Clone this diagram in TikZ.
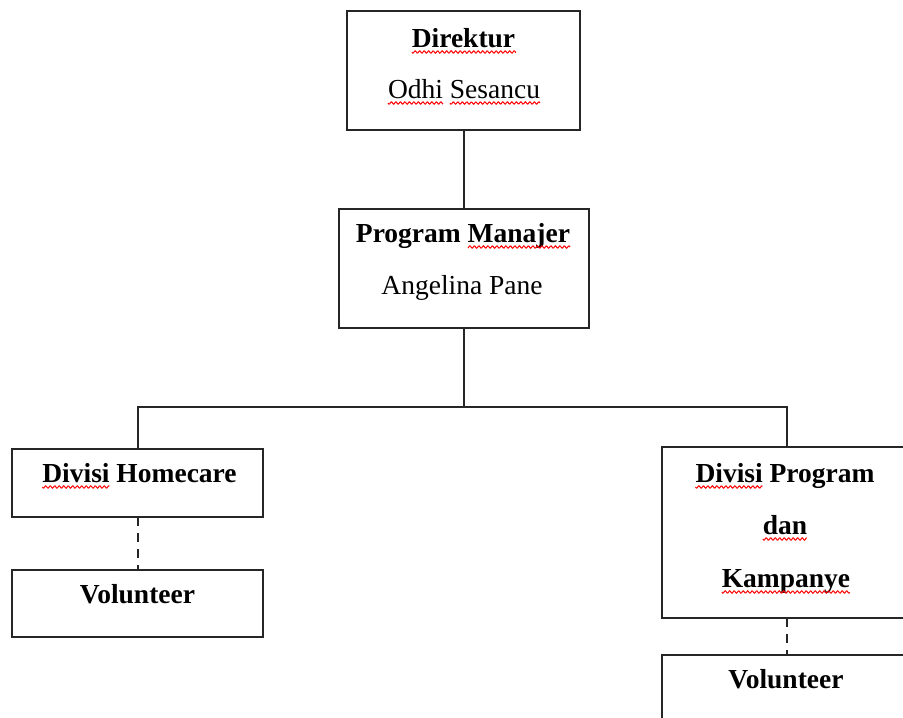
\documentclass[tikz,border=0pt]{standalone}
\usepackage{fontspec}
\setmainfont{Liberation Serif}
\begin{document}
\begin{tikzpicture}[x=1pt,y=-1pt,
  box/.style={draw=black!85,line width=2pt,inner sep=0pt,outer sep=0pt},
  lbl/.style={anchor=base,inner sep=0pt,outer sep=0pt,font=\fontsize{27.5}{33}\selectfont},
  link/.style={line width=2pt,draw=black!85},
  dlink/.style={link,dash pattern=on 9pt off 7pt},
  squig/.style={red,line width=1pt}]
\useasboundingbox (0,0) rectangle (903,718);
% boxes
\node[box,minimum width=233pt,minimum height=119pt] (dir) at (463.5,70.5) {};
\node[box,minimum width=250pt,minimum height=119pt] (pm) at (463.5,268.5) {};
\node[box,minimum width=251pt,minimum height=68pt] (hc) at (137.5,483) {};
\node[box,minimum width=251pt,minimum height=67pt] (vl) at (137.5,603.5) {};
\node[box,minimum width=250pt,minimum height=171pt] (dpk) at (786.5,532.5) {};
\node[box,minimum width=250pt,minimum height=120pt] (vr) at (786.5,715) {};
% texts
\node[lbl] (t1) at (463.5,47) {\bfseries Direktur};
\node[lbl] (t2) at (464,98) {Odhi Sesancu};
\node[lbl] (t3) at (463,242) {\bfseries Program Manajer};
\node[lbl] (t4) at (462,294) {Angelina Pane};
\node[lbl] (t5) at (139.5,482) {\bfseries Divisi Homecare};
\node[lbl] (t6) at (137.5,603) {\bfseries Volunteer};
\node[lbl] (t7) at (785,482) {\bfseries Divisi Program};
\node[lbl] (t8) at (785,534) {\bfseries dan};
\node[lbl] (t9) at (786,587) {\bfseries Kampanye};
\node[lbl] (t10) at (786,688) {\bfseries Volunteer};
% spell-check squiggles
\draw[squig,shift={(t1.base west)}] plot[domain=0:104,samples=120] (\x,{5+1.2*sin(\x*80)});
\draw[squig,shift={(t2.base west)}] plot[domain=0:55,samples=70] (\x,{5+1.2*sin(\x*80)});
\draw[squig,shift={(t2.base east)}] plot[domain=-90:0,samples=100] (\x,{5+1.2*sin(\x*80)});
\draw[squig,shift={(t3.base east)}] plot[domain=-102:0,samples=120] (\x,{5+1.2*sin(\x*80)});
\draw[squig,shift={(t5.base west)}] plot[domain=0:67,samples=80] (\x,{5+1.2*sin(\x*80)});
\draw[squig,shift={(t7.base west)}] plot[domain=0:67,samples=80] (\x,{5+1.2*sin(\x*80)});
\draw[squig,shift={(t8.base west)}] plot[domain=0:44,samples=60] (\x,{5+1.2*sin(\x*80)});
\draw[squig,shift={(t9.base west)}] plot[domain=0:128,samples=150] (\x,{5+1.2*sin(\x*80)});
% connectors
\coordinate (bus) at (463.5,407);
\draw[link] (dir) -- (pm);
\draw[link] (pm.south) -- (bus);
\draw[link] (bus) -| (hc.north);
\draw[link] (bus) -| (dpk.north);
\draw[dlink] (hc) -- (vl);
\draw[dlink] (dpk) -- (vr);
\end{tikzpicture}
\end{document}
